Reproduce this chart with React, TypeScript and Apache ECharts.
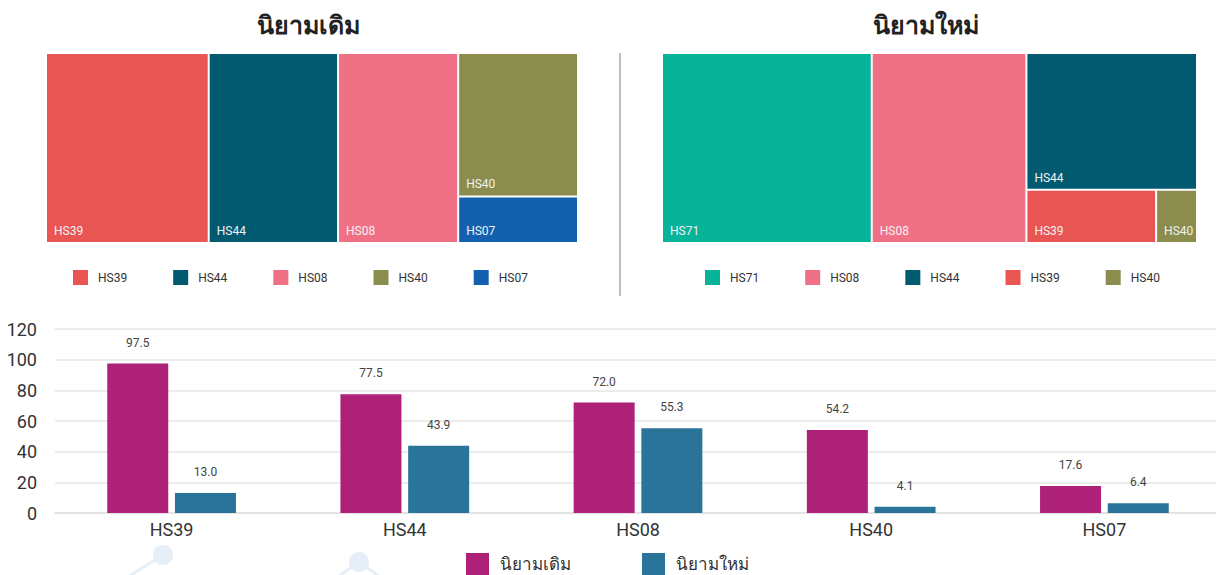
import React, { useEffect, useRef } from "react";
import * as echarts from "echarts";

const categories = ["HS39", "HS44", "HS08", "HS40", "HS07"];
const oldValues = [97.5, 77.5, 72.0, 54.2, 17.6];
const newValues = [13.0, 43.9, 55.3, 4.1, 6.4];

const oldTreeNames = ["HS39", "HS44", "HS08", "HS40", "HS07"];
const oldTreeValues = [97.5, 77.5, 72.0, 54.2, 17.6];
const newTreeNames = ["HS71", "HS08", "HS44", "HS39", "HS40"];
const newTreeValues = [75.0, 55.3, 43.9, 13.0, 4.1];

const codeColors: Record<string, string> = {
  HS39: "#e85552",
  HS44: "#015a70",
  HS08: "#f07086",
  HS40: "#8a8d4d",
  HS07: "#1260ae",
  HS71: "#07b399",
};

const seriesNames = ["นิยามเดิม", "นิยามใหม่"];
const seriesColors = ["#ad2179", "#2a7499"];
const titles = ["นิยามเดิม", "นิยามใหม่"];

const FONT = "Roboto, 'Noto Sans', sans-serif";

export default function App() {
  const ref = useRef<HTMLDivElement>(null);
  useEffect(() => {
    if (!ref.current) return;
    const chart = echarts.init(ref.current, undefined, { renderer: "svg" });

    const treeSeries = (names: string[], values: number[], left: number, width: number) => ({
      type: "treemap",
      left,
      top: 54,
      width,
      height: 188,
      roam: false,
      nodeClick: false,
      silent: true,
      squareRatio: 1,
      breadcrumb: { show: false },
      label: {
        show: true,
        position: "insideBottomLeft",
        distance: 5,
        padding: [0, 0, 0, 2],
        overflow: "none",
        fontSize: 12,
        color: "#f2f2f2",
        fontFamily: FONT,
        formatter: "{b}",
      },
      upperLabel: { show: false },
      itemStyle: { borderWidth: 0, gapWidth: 2, borderColor: "#fff" },
      levels: [{ itemStyle: { borderWidth: 0, gapWidth: 2, borderColor: "#fff" } }],
      data: names.map((n, i) => ({
        name: n,
        value: values[i],
        itemStyle: { color: codeColors[n] },
      })),
    });

    const allCodes = Array.from(new Set([...oldTreeNames, ...newTreeNames]));
    const dummySeries = allCodes.map((n) => ({
      type: "scatter",
      name: n,
      data: [],
      itemStyle: { color: codeColors[n], opacity: 1 },
      xAxisIndex: 0,
      yAxisIndex: 0,
    }));

    const smallLegend = (data: string[], left: number) => ({
      data,
      left,
      top: 265,
      orient: "horizontal",
      icon: "rect",
      itemWidth: 15,
      itemHeight: 15,
      itemGap: 46,
      selectedMode: false,
      itemStyle: { opacity: 1 },
      textStyle: { fontSize: 12, color: "#333", fontFamily: FONT, padding: [0, 0, 0, 5] },
    });

    chart.setOption({
      animation: false,
      textStyle: { fontFamily: FONT },
      title: [
        {
          text: titles[0],
          left: 303,
          top: 8,
          textAlign: "center",
          textStyle: { fontSize: 25, fontWeight: "bold", color: "#222", fontFamily: FONT },
        },
        {
          text: titles[1],
          left: 921,
          top: 8,
          textAlign: "center",
          textStyle: { fontSize: 25, fontWeight: "bold", color: "#222", fontFamily: FONT },
        },
      ],
      legend: [
        smallLegend(oldTreeNames, 68),
        smallLegend(newTreeNames, 700),
        {
          data: seriesNames,
          left: 461,
          top: 548,
          icon: "rect",
          itemWidth: 23,
          itemHeight: 22,
          itemGap: 71,
          selectedMode: false,
          textStyle: { fontSize: 17, color: "#333", fontFamily: FONT, padding: [0, 0, 0, 6] },
        },
      ],
      grid: { left: 55, right: 0, top: 329, bottom: 62, containLabel: false },
      xAxis: {
        type: "category",
        data: categories,
        axisTick: { show: false },
        axisLine: { lineStyle: { color: "#e3e3e3", width: 2 } },
        axisLabel: { fontSize: 18, color: "#333", margin: 7, fontFamily: FONT },
      },
      yAxis: {
        type: "value",
        min: 0,
        max: 120,
        interval: 20,
        axisLine: { show: false },
        axisTick: { show: false },
        splitLine: { lineStyle: { color: "#e6e6e6", width: 1.5 } },
        axisLabel: { fontSize: 18, color: "#333", margin: 18, fontFamily: FONT },
      },
      series: [
        treeSeries(oldTreeNames, oldTreeValues, 47, 530),
        treeSeries(newTreeNames, newTreeValues, 663, 533),
        ...dummySeries,
        {
          type: "bar",
          name: seriesNames[0],
          data: oldValues,
          barWidth: 61,
          barGap: "11%",
          itemStyle: { color: seriesColors[0] },
          label: {
            show: true,
            position: "top",
            distance: 15,
            fontSize: 12,
            color: "#444",
            formatter: (p: any) => Number(p.value).toFixed(1),
          },
        },
        {
          type: "bar",
          name: seriesNames[1],
          data: newValues,
          barWidth: 61,
          barGap: "11%",
          itemStyle: { color: seriesColors[1] },
          label: {
            show: true,
            position: "top",
            distance: 15,
            fontSize: 12,
            color: "#444",
            formatter: (p: any) => Number(p.value).toFixed(1),
          },
        },
      ],
      graphic: [
        {
          type: "line",
          shape: { x1: 620, y1: 53, x2: 620, y2: 296 },
          style: { stroke: "#aaaaaa", lineWidth: 1.5 },
          silent: true,
        },
        {
          type: "line",
          shape: { x1: 126, y1: 578, x2: 163, y2: 555 },
          style: { stroke: "#e6eef7", lineWidth: 3 },
          silent: true,
          z: -10,
        },
        {
          type: "circle",
          shape: { cx: 163, cy: 555, r: 10 },
          style: { fill: "#e6eef7" },
          silent: true,
          z: -10,
        },
        {
          type: "polyline",
          shape: { points: [[336, 578], [359, 562], [382, 578]] },
          style: { stroke: "#e6eef7", lineWidth: 3, fill: "none" },
          silent: true,
          z: -10,
        },
        {
          type: "circle",
          shape: { cx: 359, cy: 562, r: 10 },
          style: { fill: "#e6eef7" },
          silent: true,
          z: -10,
        },
      ],
    });
    return () => chart.dispose();
  }, []);
  return (
    <div
      style={{ position: "absolute", left: 0, top: 0, width: 1216, height: 575, overflow: "hidden" }}
    >
      <div ref={ref} style={{ width: 1221, height: 575 }} />
    </div>
  );
}
